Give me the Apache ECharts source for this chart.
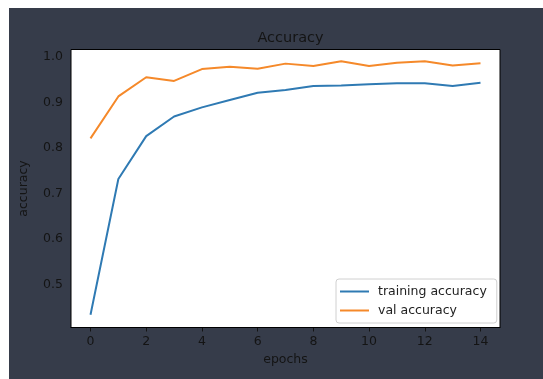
<!DOCTYPE html>
<html>
<head>
<meta charset="utf-8">
<script src="https://cdn.jsdelivr.net/npm/echarts@6/dist/echarts.min.js"></script>
<style>
  html, body { margin: 0; padding: 0; background: #fff; }
  #chart { width: 543px; height: 379px; }
</style>
</head>
<body>
<div id="chart"></div>
<script>
// values
const epochs = [0, 1, 2, 3, 4, 5, 6, 7, 8, 9, 10, 11, 12, 13, 14];
const trainAcc = [0.434, 0.732, 0.826, 0.869, 0.889, 0.905, 0.921, 0.927, 0.936, 0.937, 0.940, 0.942, 0.942, 0.936, 0.943];
const valAcc = [0.821, 0.913, 0.955, 0.947, 0.973, 0.978, 0.974, 0.985, 0.980, 0.990, 0.980, 0.987, 0.990, 0.981, 0.986];
const xTicks = [0, 2, 4, 6, 8, 10, 12, 14];
const yTicks = [0.5, 0.6, 0.7, 0.8, 0.9, 1.0];

(function () {
  const chart = echarts.init(document.getElementById('chart'));
  const font = 'DejaVu Sans';
  const ink = '#141414';

  function pairs(ys) {
    return epochs.map((x, i) => [x, ys[i]]);
  }

  const opt = {
    animation: false,
    backgroundColor: '#fff',
    textStyle: { fontFamily: font },
    graphic: [{
      type: 'rect',
      z: -10,
      shape: { x: 9, y: 8, width: 534, height: 371 },
      style: { fill: '#363c4a' },
      silent: true
    }],
    title: {
      text: 'Accuracy',
      left: 285.5,
      textAlign: 'center',
      top: 26,
      textStyle: { fontFamily: font, fontSize: 14.5, fontWeight: 'normal', color: ink }
    },
    legend: {
      orient: 'vertical',
      left: 336,
      top: 279,
      padding: [6, 10, 6, 4],
      itemWidth: 29,
      itemHeight: 2,
      itemGap: 6,
      icon: 'rect',
      backgroundColor: '#fff',
      borderColor: '#d0d0d0',
      borderWidth: 1,
      borderRadius: 3,
      textStyle: { fontFamily: font, fontSize: 12.5, color: '#222', padding: [0, 0, 0, 4] },
      data: ['training accuracy', 'val accuracy']
    },
    grid: {
      left: 71,
      right: 43,
      top: 49.5,
      bottom: 51.5,
      show: true,
      backgroundColor: '#fff',
      borderColor: '#000',
      borderWidth: 1,
      z: 2
    },
    xAxis: {
      type: 'value',
      min: -0.7,
      max: 14.7,
      name: 'epochs',
      nameLocation: 'middle',
      nameGap: 25,
      nameTextStyle: { fontFamily: font, fontSize: 12.5, color: ink },
      axisLine: { show: true, lineStyle: { color: '#000', width: 1 } },
      axisTick: { show: true, length: 4, customValues: xTicks, lineStyle: { color: ink } },
      axisLabel: { customValues: xTicks, margin: 8, fontFamily: font, fontSize: 12.5, color: ink },
      splitLine: { show: false }
    },
    yAxis: {
      type: 'value',
      min: 0.406,
      max: 1.016,
      name: 'accuracy',
      nameLocation: 'middle',
      nameGap: 41,
      nameTextStyle: { fontFamily: font, fontSize: 12.5, color: ink },
      axisLine: { show: true, lineStyle: { color: '#000', width: 1 } },
      axisTick: { show: true, length: 4, customValues: yTicks, lineStyle: { color: ink } },
      axisLabel: {
        customValues: yTicks,
        margin: 8,
        fontFamily: font,
        fontSize: 12.5,
        color: ink,
        formatter: (v) => v.toFixed(1)
      },
      splitLine: { show: false }
    },
    series: [
      {
        name: 'training accuracy',
        type: 'line',
        symbol: 'none',
        color: '#2f7ab3',
        lineStyle: { width: 2, color: '#2f7ab3' },
        data: pairs(trainAcc)
      },
      {
        name: 'val accuracy',
        type: 'line',
        symbol: 'none',
        color: '#f5892a',
        lineStyle: { width: 2, color: '#f5892a' },
        data: pairs(valAcc)
      }
    ]
  };

  chart.setOption(opt);
})();
</script>
</body>
</html>
